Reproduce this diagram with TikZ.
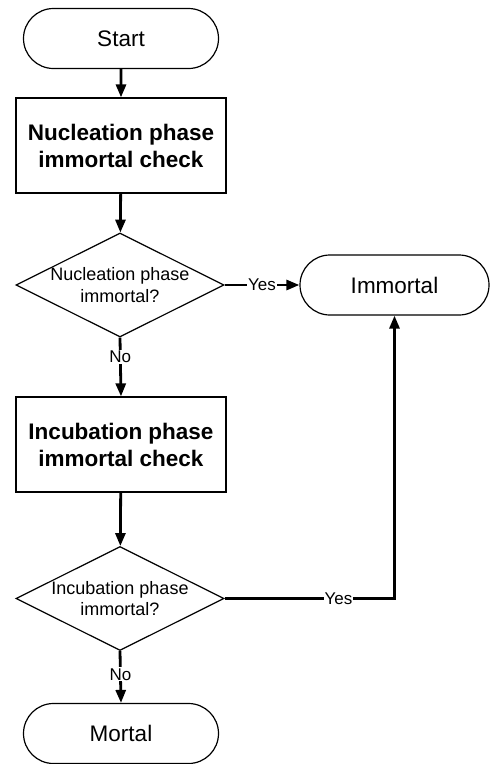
\documentclass[tikz,border=0pt]{standalone}
\usepackage{fontspec}
\setmainfont{Liberation Sans}
\usetikzlibrary{shapes.geometric,shapes.misc,arrows.meta}
\begin{document}
\begin{tikzpicture}[x=1pt,y=-1pt,
 term/.style={rounded rectangle, draw, line width=1.2pt, minimum height=60pt, inner sep=0pt, font=\fontsize{22.5}{27}\selectfont},
 proc/.style={rectangle, draw, line width=1.2pt, minimum width=210pt, minimum height=95pt, inner sep=0pt, align=center, font=\fontsize{22.5}{27}\selectfont\bfseries},
 dec/.style={diamond, draw, line width=1.2pt, minimum width=208pt, minimum height=104pt, inner sep=0pt},
 dtext/.style={align=center, font=\fontsize{18}{21.5}\selectfont},
 conn/.style={line width=2.8pt, -{Triangle[length=13pt,width=10pt]}},
 lbl/.style={fill=white, inner sep=1pt, font=\fontsize{17}{20}\selectfont}
]
\useasboundingbox (0,0) rectangle (490,764);
\node[term, minimum width=195pt] (start) at (121,38.5) {Start};
\node[proc] (p1) at (121,145.5) {Nucleation phase\\immortal check};
\node[dec, label={[dtext]center:{Nucleation phase\\immortal?}}] (d1) at (120,285) {};
\node[term, minimum width=189pt] (imm) at (394.5,285) {Immortal};
\node[proc] (p2) at (121,444.5) {Incubation phase\\immortal check};
\node[dec, label={[dtext]center:{Incubation phase\\immortal?}}] (d2) at (120,598.5) {};
\node[term, minimum width=195pt] (mort) at (121,733.5) {Mortal};

\draw[conn] (start) -- (p1);
\draw[conn] (p1) -- (d1);
\draw[conn] (d1.east) -- node[lbl]{Yes} (imm.west);
\draw[conn] (d1.south) -- node[lbl,pos=0.33]{No} (p2.north);
\draw[conn] (p2) -- (d2);
\draw[conn] (d2.east) -| node[lbl,pos=0.335]{Yes} (imm.south);
\draw[conn] (d2.south) -- node[lbl,pos=0.45]{No} (mort.north);
\end{tikzpicture}
\end{document}
